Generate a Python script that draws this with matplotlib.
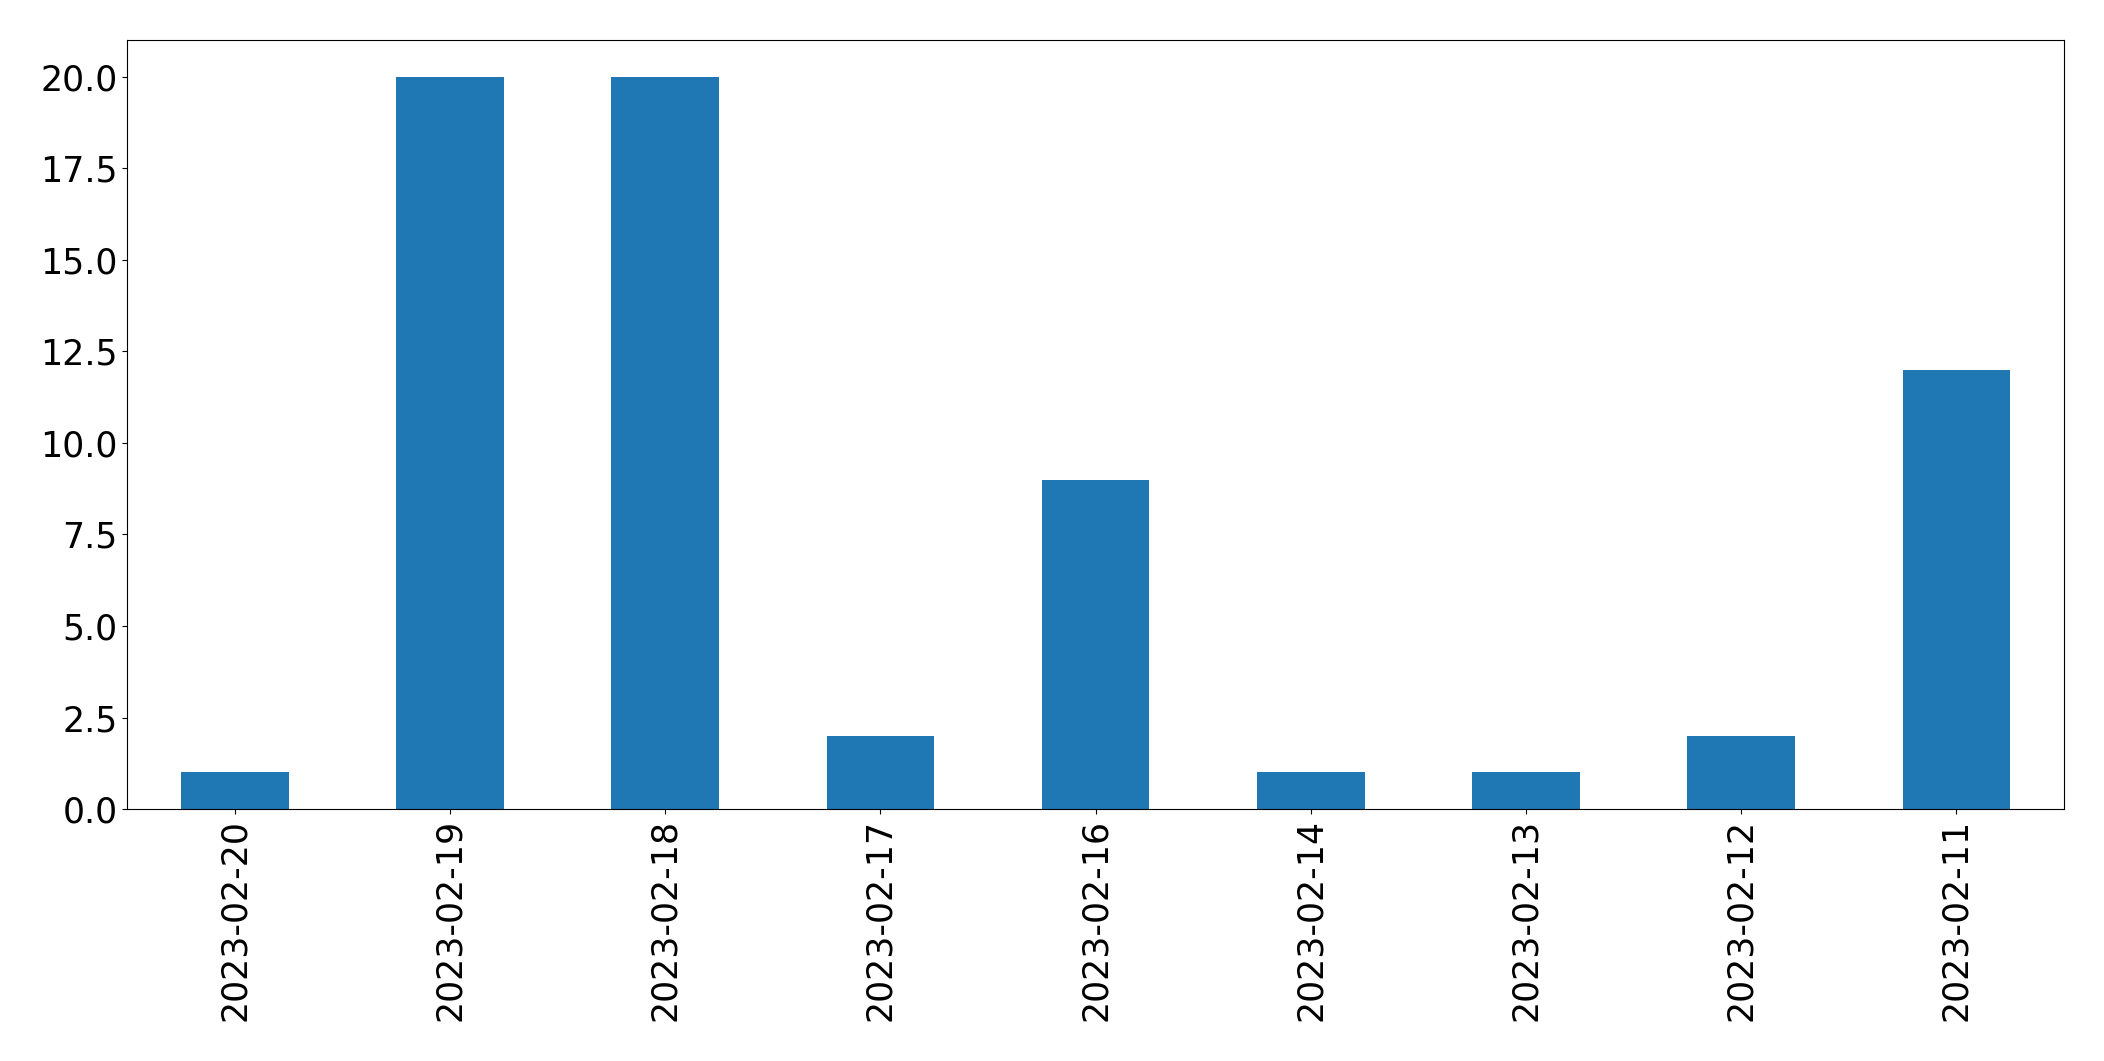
import matplotlib
matplotlib.use('Agg')
import matplotlib.pyplot as plt
import pandas as pd

# Data
dates = ['2023-02-20', '2023-02-19', '2023-02-18', '2023-02-17', '2023-02-16',
         '2023-02-14', '2023-02-13', '2023-02-12', '2023-02-11']
counts = [1, 20, 20, 2, 9, 1, 1, 2, 12]

s = pd.Series(counts, index=dates)

fig, ax = plt.subplots(figsize=(21.04, 10.61), dpi=100)
s.plot(kind='bar', ax=ax, color='#1f77b4', fontsize=25)
ax.tick_params(axis='both', labelsize=25)
fig.subplots_adjust(left=0.0605, right=0.981, top=0.962, bottom=0.2375)
fig.savefig('out.png', dpi=100)
